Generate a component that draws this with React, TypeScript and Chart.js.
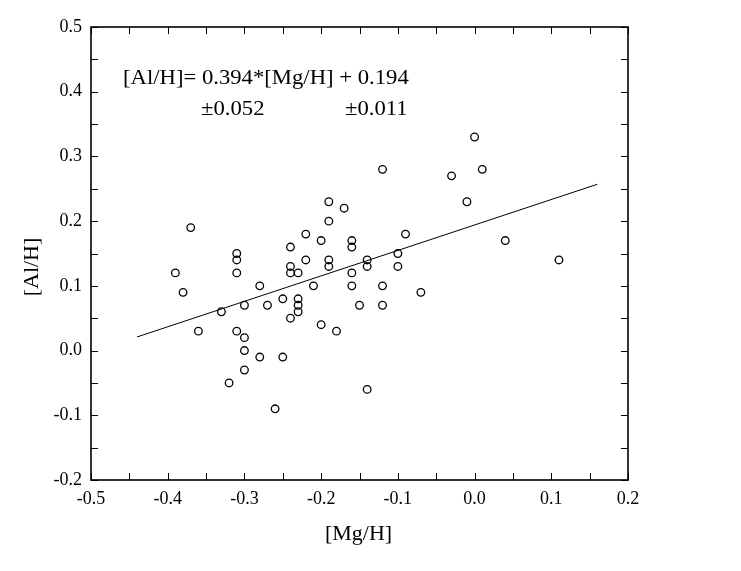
import React, { useEffect, useRef } from "react";
import { Chart, registerables } from "chart.js";

Chart.register(...registerables);

const mgH = [
  -0.39, -0.38, -0.37, -0.36, -0.33, -0.32, -0.31, -0.31, -0.31, -0.31,
  -0.3, -0.3, -0.3, -0.3, -0.28, -0.28, -0.27, -0.26, -0.25, -0.25,
  -0.24, -0.24, -0.24, -0.24, -0.23, -0.23, -0.23, -0.23, -0.22, -0.22,
  -0.21, -0.2, -0.2, -0.19, -0.19, -0.19, -0.19, -0.18, -0.17, -0.16,
  -0.16, -0.16, -0.16, -0.15, -0.14, -0.14, -0.14, -0.12, -0.12, -0.12,
  -0.1, -0.1, -0.09, -0.07, -0.03, -0.01, 0.0, 0.01, 0.04, 0.11,
];
const alH = [
  0.12, 0.09, 0.19, 0.03, 0.06, -0.05, 0.15, 0.14, 0.12, 0.03,
  0.07, 0.02, 0.0, -0.03, 0.1, -0.01, 0.07, -0.09, 0.08, -0.01,
  0.16, 0.13, 0.12, 0.05, 0.12, 0.08, 0.07, 0.06, 0.18, 0.14,
  0.1, 0.17, 0.04, 0.23, 0.2, 0.14, 0.13, 0.03, 0.22, 0.17,
  0.16, 0.12, 0.1, 0.07, 0.14, 0.13, -0.06, 0.28, 0.1, 0.07,
  0.15, 0.13, 0.18, 0.09, 0.27, 0.23, 0.33, 0.28, 0.17, 0.14,
];

const fitX = [-0.44, 0.16];
const fitY = [0.021, 0.257];

const xRange = [-0.5, 0.2];
const yRange = [-0.2, 0.5];
const tickStep = 0.05;

const xTitle = "[Mg/H]";
const yTitle = "[Al/H]";
const equation = "[Al/H]= 0.394*[Mg/H] + 0.194";
const slopeErr = "±0.052";
const interceptErr = "±0.011";

const SERIF = "'Liberation Serif', 'Times New Roman', serif";

function labelFor(v: number): string {
  const r = Math.round(v * 100);
  if (r % 10 !== 0) return "";
  const t = Math.round(v * 10) / 10;
  return (t === 0 ? 0 : t).toFixed(1);
}

function stretchedText(ctx: CanvasRenderingContext2D, text: string, x: number, y: number, sx: number) {
  ctx.save();
  ctx.translate(x, y);
  ctx.scale(sx, 1);
  ctx.fillText(text, 0, 0);
  ctx.restore();
}

const framePlugin = {
  id: "frameTicks",
  afterDraw(chart: any) {
    const { ctx, chartArea, scales } = chart;
    const { left, right, top, bottom } = chartArea;
    const xs = scales.x;
    const ys = scales.y;
    const tl = 7;
    ctx.save();
    ctx.strokeStyle = "#000";
    ctx.lineWidth = 1;
    xs.ticks.forEach((t: any) => {
      const p = Math.round(xs.getPixelForValue(t.value)) + 0.5;
      ctx.beginPath();
      ctx.moveTo(p, bottom);
      ctx.lineTo(p, bottom - tl);
      ctx.moveTo(p, top);
      ctx.lineTo(p, top + tl);
      ctx.stroke();
    });
    ys.ticks.forEach((t: any) => {
      const p = Math.round(ys.getPixelForValue(t.value)) + 0.5;
      ctx.beginPath();
      ctx.moveTo(left, p);
      ctx.lineTo(left + tl, p);
      ctx.moveTo(right, p);
      ctx.lineTo(right - tl, p);
      ctx.stroke();
    });
    ctx.lineWidth = 1.6;
    ctx.strokeRect(left, top, right - left, bottom - top);

    ctx.fillStyle = "#000";
    ctx.textBaseline = "alphabetic";
    ctx.textAlign = "left";
    ctx.font = `21px ${SERIF}`;
    stretchedText(ctx, equation, left + 32, top + 57, 1.08);
    stretchedText(ctx, slopeErr, left + 110, top + 88, 1.08);
    stretchedText(ctx, interceptErr, left + 254, top + 88, 1.08);

    // axis titles
    ctx.font = `22px ${SERIF}`;
    ctx.textAlign = "center";
    ctx.fillText(xTitle, (left + right) / 2 - 1, 539.5);
    ctx.save();
    ctx.translate(38, 267);
    ctx.rotate(-Math.PI / 2);
    ctx.fillText(yTitle, 0, 0);
    ctx.restore();
    ctx.restore();
  },
};

export default function App() {
  const ref = useRef<HTMLCanvasElement | null>(null);
  useEffect(() => {
    if (!ref.current) return;
    const chart = new Chart(ref.current, {
      type: "scatter",
      data: {
        datasets: [
          {
            label: "stars",
            data: mgH.map((x, i) => ({ x, y: alH[i] })),
            pointStyle: "circle",
            pointRadius: 3.8,
            pointBorderWidth: 1.3,
            borderColor: "#000",
            backgroundColor: "rgba(255,255,255,0)",
            showLine: false,
          },
          {
            label: "fit",
            type: "line",
            data: fitX.map((x, i) => ({ x, y: fitY[i] })),
            borderColor: "#000",
            borderWidth: 1,
            pointRadius: 0,
            fill: false,
          },
        ],
      },
      options: {
        animation: false,
        responsive: true,
        maintainAspectRatio: false,
        layout: { padding: { top: 27, right: 113, left: 0, bottom: 0 } },
        plugins: { legend: { display: false }, tooltip: { enabled: false } },
        scales: {
          x: {
            type: "linear",
            min: xRange[0],
            max: xRange[1],
            afterFit: (s: any) => {
              s.height = 91;
            },
            grid: { display: false, drawTicks: false },
            border: { display: false },
            ticks: {
              stepSize: tickStep,
              autoSkip: false,
              maxRotation: 0,
              padding: 8,
              color: "#000",
              font: { family: SERIF, size: 18 },
              callback: (v: any) => labelFor(Number(v)),
            },
            title: { display: false, text: xTitle },
          },
          y: {
            type: "linear",
            min: yRange[0],
            max: yRange[1],
            afterFit: (s: any) => {
              s.width = 91;
            },
            grid: { display: false, drawTicks: false },
            border: { display: false },
            ticks: {
              stepSize: tickStep,
              autoSkip: false,
              padding: 9,
              color: "#000",
              font: { family: SERIF, size: 18 },
              callback: (v: any) => labelFor(Number(v)),
            },
            title: { display: false, text: yTitle },
          },
        },
      },
      plugins: [framePlugin],
    });
    return () => chart.destroy();
  }, []);
  return (
    <div style={{ position: "absolute", left: 0, top: 0, width: 741, height: 571, background: "#fff" }}>
      <canvas ref={ref} />
    </div>
  );
}
